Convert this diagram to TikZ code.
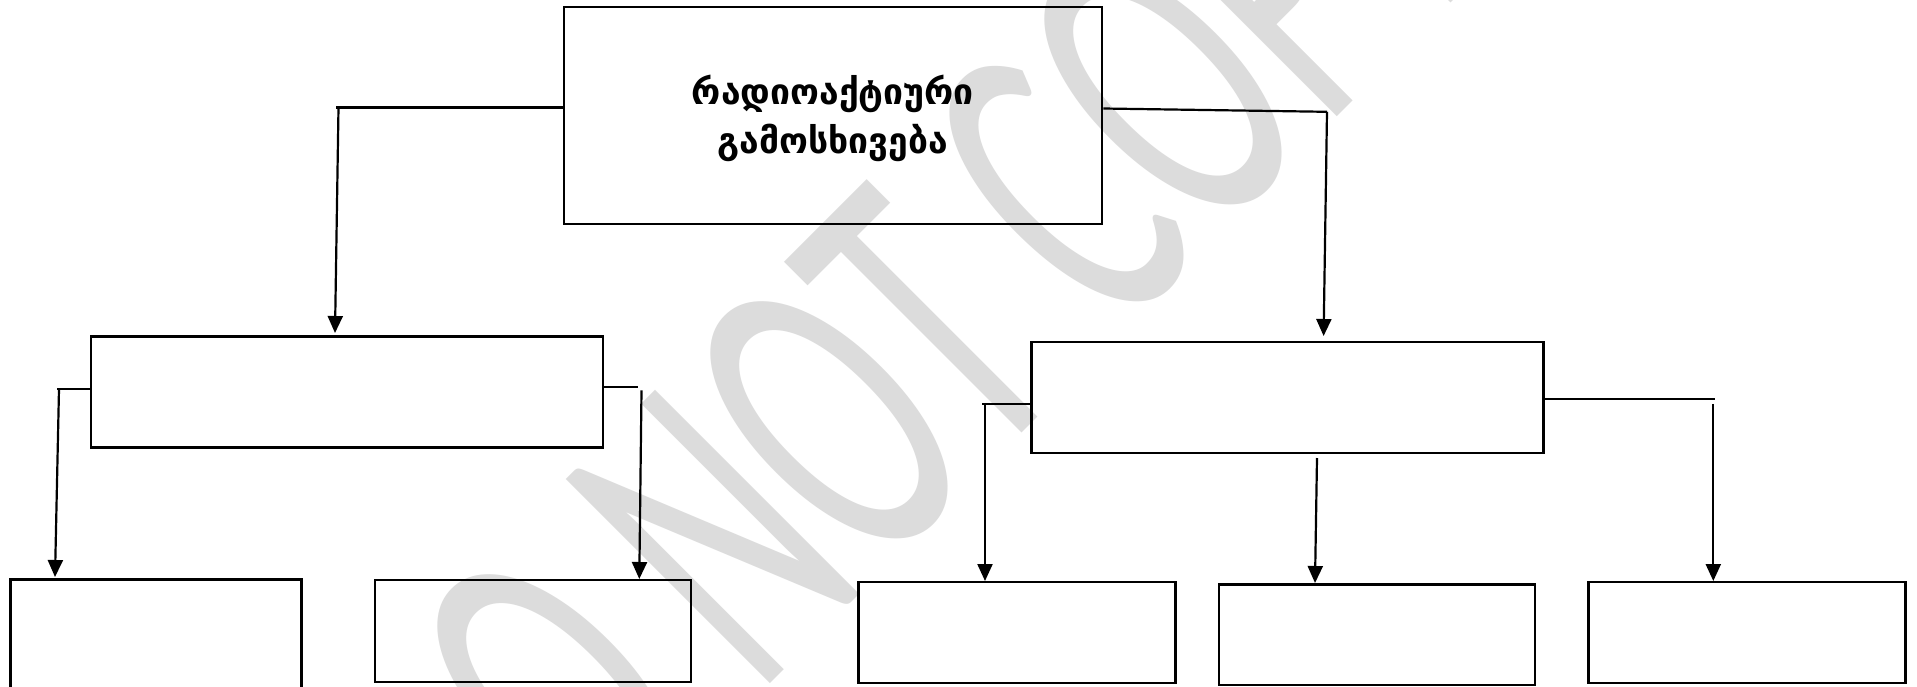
\documentclass[tikz,border=0pt]{standalone}
\usepackage{fontspec}
\setmainfont{DejaVu Sans}
\newfontfamily\wmfont{Carlito}
\usetikzlibrary{arrows.meta}
\definecolor{wmgray}{RGB}{220,220,220}
\tikzset{
  box/.style={draw=black, line width=2.6pt, fill=none, inner sep=0pt},
  conn/.style={draw=black, line width=2.2pt},
  arr/.style={conn, -{Triangle[width=15pt,length=17pt]}},
}
\begin{document}
\begin{tikzpicture}[x=1pt,y=-1pt]
\clip (0,0) rectangle (1917,686);
\fill[white] (0,0) rectangle (1917,686);
% watermark
\node[text=wmgray, rotate=45, xscale=0.56, inner sep=0pt] (wm) at (894,356)
  {\wmfont\fontsize{450}{450}\selectfont DO NOT COPY};
% boxes
\node[box, minimum width=538pt, minimum height=217pt] (top) at (833,115.5) {};
\node[align=center, font=\bfseries\fontsize{35.5}{49.5}\selectfont, inner sep=0pt]
  (toptext) at (833,118.5) {რადიოაქტიური\\გამოსხივება};
\node[box, minimum width=512pt, minimum height=111pt] (ml) at (347,392) {};
\node[box, minimum width=512pt, minimum height=111pt] (mr) at (1287.5,397.5) {};
\node[box, minimum width=291pt, minimum height=121pt] (b1) at (156,640) {};
\node[box, minimum width=316pt, minimum height=102pt] (b2) at (533,631) {};
\node[box, minimum width=317pt, minimum height=101pt] (b3) at (1017,632.5) {};
\node[box, minimum width=316pt, minimum height=100.5pt] (b4) at (1377,634.75) {};
\node[box, minimum width=316.5pt, minimum height=101pt] (b5) at (1747,632.5) {};
% bend coordinates
\coordinate (k1) at (336,107.5);
\coordinate (k1a) at (338.5,107.5);
\coordinate (k1b) at (335,333);
\coordinate (k2) at (1327,111.8);
\coordinate (k2b) at (1323.6,336);
\coordinate (k3) at (57,389);
\coordinate (k3a) at (59,389);
\coordinate (k3b) at (55,577);
\coordinate (k4) at (638.4,387);
\coordinate (k4a) at (641.5,390.4);
\coordinate (k4b) at (639.3,579);
\coordinate (k5) at (982.4,403.8);
\coordinate (k5a) at (985,403.8);
\coordinate (k5b) at (985,581);
\coordinate (k6a) at (1317,458);
\coordinate (k6b) at (1315,583);
\coordinate (k7) at (1714.7,399.2);
\coordinate (k7a) at (1713.3,403.8);
\coordinate (k7b) at (1713.3,581);
% connectors
\draw[conn] (top.west |- k1) -- (k1);
\draw[arr] (k1a) -- (k1b);
\draw[conn] (top.east |- 0,108.5) -- (k2);
\draw[arr] (k2) -- (k2b);
\draw[conn] (ml.west |- k3) -- (k3);
\draw[arr] (k3a) -- (k3b);
\draw[conn] (ml.east |- k4) -- (k4);
\draw[arr] (k4a) -- (k4b);
\draw[conn] (mr.west |- k5) -- (k5);
\draw[arr] (k5a) -- (k5b);
\draw[arr] (k6a) -- (k6b);
\draw[conn] (mr.east |- k7) -- (k7);
\draw[arr] (k7a) -- (k7b);
\end{tikzpicture}
\end{document}
